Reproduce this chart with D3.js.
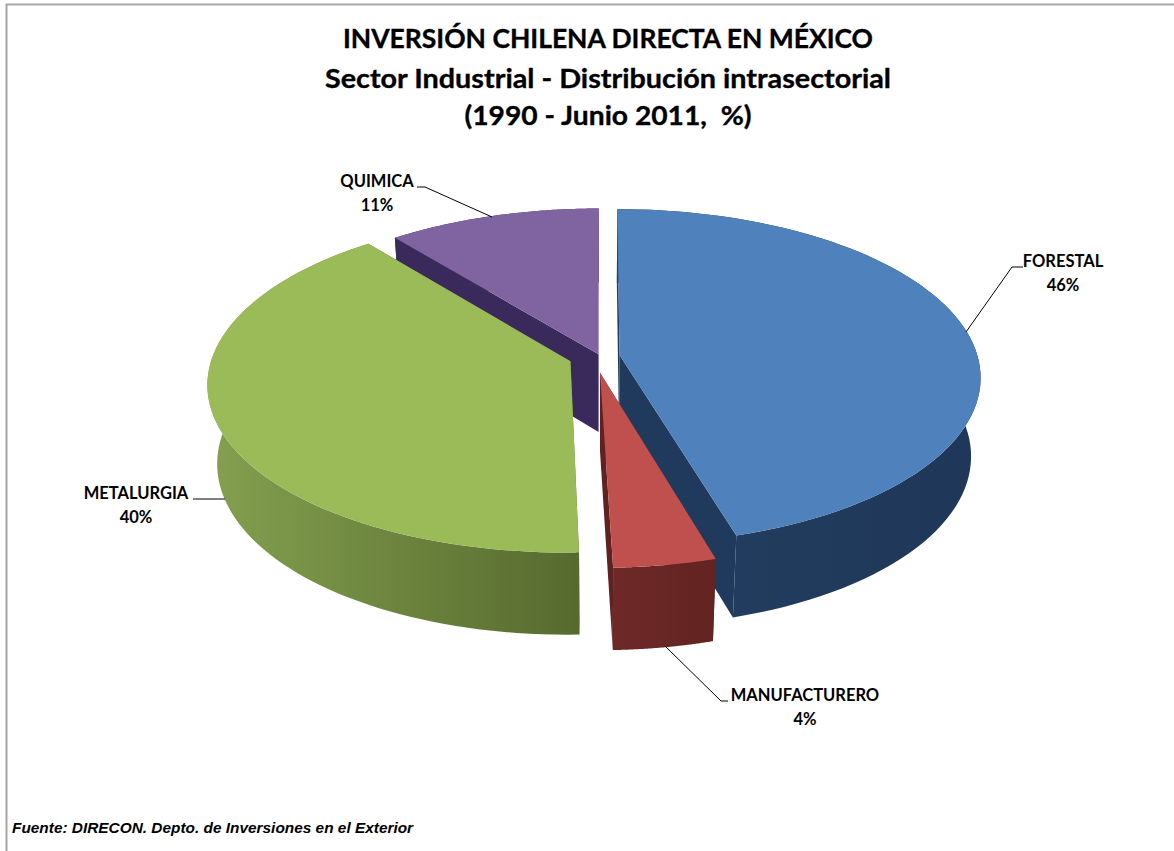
<!DOCTYPE html>
<html><head><meta charset="utf-8">
<script src="https://cdn.jsdelivr.net/npm/d3@7"></script>
<style>html,body{margin:0;padding:0;background:#fff;overflow:hidden}svg{display:block}</style>
</head><body>
<svg id="c" width="1174" height="851"></svg>
<script>
// ---- data ----
const categories = ["FORESTAL", "MANUFACTURERO", "METALURGIA", "QUIMICA"];
const values = [45.5, 4.0, 39.7, 10.8];            // shares
const percentLabels = ["46%", "4%", "40%", "11%"];  // printed labels
const titleLines = ["INVERSIÓN CHILENA DIRECTA EN MÉXICO",
  "Sector Industrial - Distribución intrasectorial",
  "(1990 - Junio 2011,  %)"];
const sourceText = "Fuente: DIRECON. Depto. de Inversiones en el Exterior";

// ---- styling & layout ----
const explode = [0.055, 0.1, 0.088, 0.012];
const explodeDeg = [83, 180, 249, 340];
const topColors = ["#4f81bd", "#c0504d", "#9bbb59", "#8064a2"];
const cutColors = ["#1f3a5c", "#5f2220", "#5f7330", "#3a2a5c"];
const wallStops = [["#233f61", "#1f3759"], ["#6e2927", "#622321"], ["#84a04f", "#566a2e"], ["#3a2a5c", "#3a2a5c"]];
const drawOrder = [3, 0, 2, 1];
const labelLayout = [
  {x:1063, y:267, leader:[[966,332],[1012,267],[1023,267]]},
  {x:805, y:701, leader:[[665,646],[721,701],[728,701]]},
  {x:136, y:499, leader:[[225,499],[193,499]]},
  {x:377, y:187, leader:[[492,217],[425,187],[417,187]]}
];
const titleLayout = [{y:48, w:530}, {y:88, w:566}, {y:125, w:287}];
const cx = 600, cy = 356, A = 358, B = 165, K = 0.13, bottomShrink = 0.975;

const svg = d3.select("#c");
const defs = svg.append("defs");

// Perspective projection of the pie's ground plane
const project = (U, V, down) => {
  const w = 1 - K * V;
  return [cx + (down ? bottomShrink : 1) * A * U / w, cy + B * V / w + (down ? 78 + 4 * V : 0)];
};
const arcs = d3.pie().sort(null).value(d => d)(values);
const line = d3.line();

// frame
svg.append("path").attr("d", "M6.5,851V4.5H1174").attr("fill", "none")
  .attr("stroke", "#a6a6a6").attr("stroke-width", 2);

drawOrder.forEach(i => {
  const a = arcs[i];
  const dir = explodeDeg[i] * Math.PI / 180;
  const ox = explode[i] * Math.sin(dir), oy = -explode[i] * Math.cos(dir);
  const angles = d3.range(0, 81).map(t => a.startAngle + (a.endAngle - a.startAngle) * t / 80);
  const rim = down => angles.map(t => project(ox + Math.sin(t), oy - Math.cos(t), down));
  const apex = down => project(ox, oy, down);
  const g = svg.append("g").attr("class", "slice");

  const id = "w" + i;
  const grad = defs.append("linearGradient").attr("id", id).attr("x1", 0).attr("x2", 1).attr("y1", 0).attr("y2", 0);
  grad.append("stop").attr("offset", 0).attr("stop-color", wallStops[i][0]);
  grad.append("stop").attr("offset", 1).attr("stop-color", wallStops[i][1]);

  // cut walls
  const rimT = rim(false), rimB = rim(true);
  [[rimT[0], rimB[0]], [rimT[80], rimB[80]]].forEach(([pt, pb]) => {
    g.append("path").attr("d", line([apex(false), pt, pb, apex(true)]) + "Z").attr("fill", cutColors[i]);
  });
  // outer wall
  g.append("path").attr("d", line(rimT.concat(rimB.slice().reverse())) + "Z").attr("fill", `url(#${id})`);
  // top
  g.append("path").attr("d", line([apex(false)].concat(rimT)) + "Z").attr("fill", topColors[i]);
});

// leaders + labels
categories.forEach((c, i) => {
  const l = labelLayout[i];
  svg.append("path").attr("d", line(l.leader)).attr("fill", "none").attr("stroke", "#000").attr("stroke-width", 1);
  const t = svg.append("g").attr("font-family", "Lato").attr("font-weight", 700).attr("font-size", 16.5)
    .attr("text-anchor", "middle").attr("fill", "#000");
  t.append("text").attr("x", l.x).attr("y", l.y).text(c);
  t.append("text").attr("x", l.x).attr("y", l.y + 23.5).text(percentLabels[i]);
});

// title
titleLines.forEach((s, i) => {
  const L = titleLayout[i];
  svg.append("text").attr("x", 608).attr("y", L.y).attr("text-anchor", "middle")
    .attr("font-family", "Lato").attr("font-weight", 700).attr("font-size", 27)
    .attr("textLength", L.w).attr("lengthAdjust", "spacingAndGlyphs")
    .attr("stroke", "#000").attr("stroke-width", 0.35)
    .attr("fill", "#000").style("white-space", "pre").text(s);
});
// source
svg.append("text").attr("x", 12).attr("y", 832.5).attr("font-family", "Liberation Sans")
  .attr("font-weight", 700).attr("font-style", "italic").attr("font-size", 15.4).attr("fill", "#000").text(sourceText);
</script>
</body></html>
